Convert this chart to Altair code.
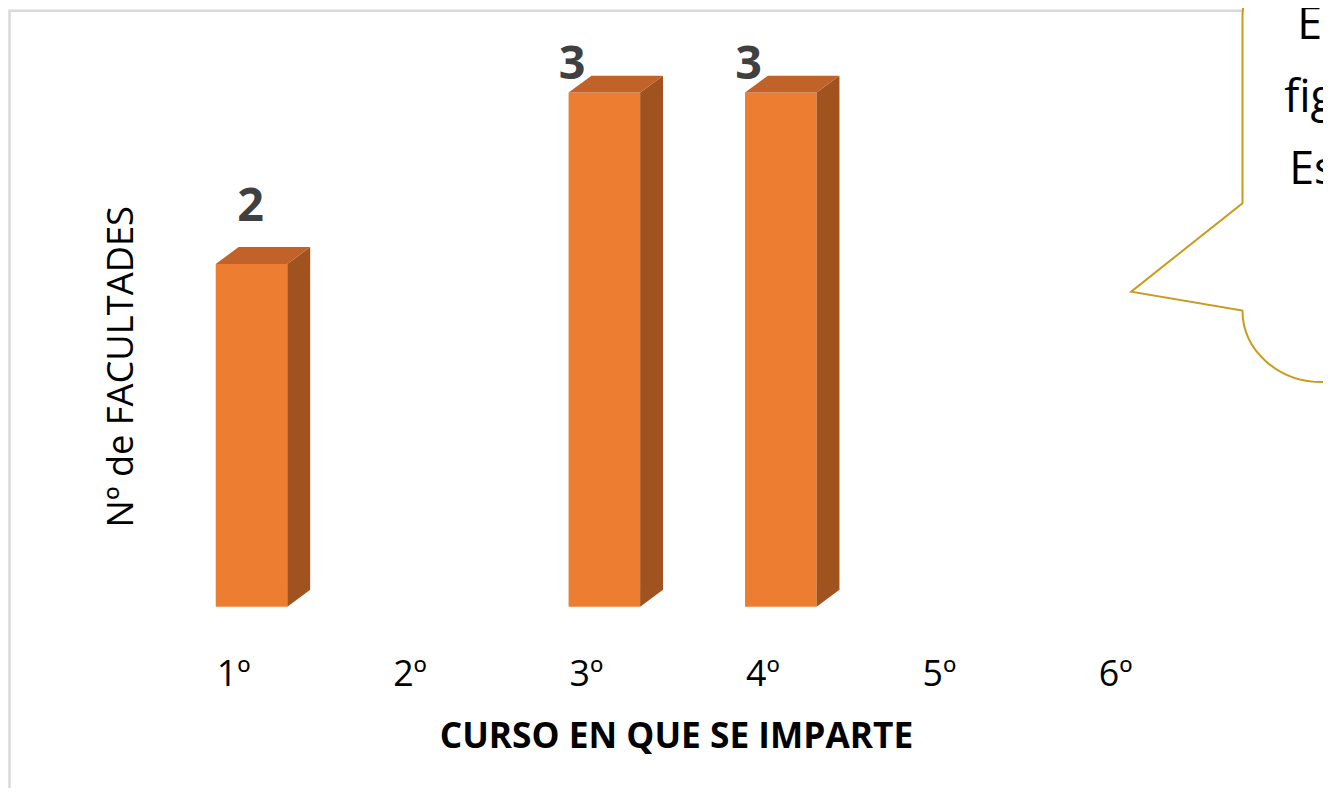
import json
import altair as alt
import pandas as pd

# ---------------- data ----------------
categories = ["1º", "2º", "3º", "4º", "5º", "6º"]
values = [2, 0, 3, 3, 0, 0]
y_title = "Nº de FACULTADES"
x_title = "CURSO EN QUE SE IMPARTE"
bubble_lines = ["E", "fig", "Es"]

# ---------------- layout / style ----------------
FONT = "Open Sans"
SVG_W, SVG_H = 1323, 780
PAD_L = 137.75
PLOT_W, PLOT_H = 1065, 600
PAD_R = SVG_W - PAD_L - PLOT_W
PAD_B = SVG_H - PLOT_H
X_DOMAIN = [0.5, 6.5]
Y_DOMAIN = [0, 3.48]
PX_X = PLOT_W / (X_DOMAIN[1] - X_DOMAIN[0])
PX_Y = PLOT_H / (Y_DOMAIN[1] - Y_DOMAIN[0])

FRONT_L = -17.5 / PX_X
FRONT_R = 54.5 / PX_X
DEPTH_X = 23 / PX_X
DEPTH_Y = 17 / PX_Y
LABEL_LIFT = 0.25
LABEL_MAX = 3.08

C_FRONT = "#ED7D31"
C_SIDE = "#A0531F"
C_TOP = "#C0622A"
C_LABEL = "#404040"
C_FRAME = "#D9D9D9"
C_BUBBLE = "#C99A1C"

# page -> plot-area offsets
OX = 8 + PAD_L
OY = 8

xs = alt.Scale(domain=X_DOMAIN, nice=False, zero=False)
ys = alt.Scale(domain=Y_DOMAIN, nice=False, zero=False)

bars = pd.DataFrame({"idx": list(range(1, len(categories) + 1)),
                     "cat": categories, "val": values})
bars = bars[bars["val"] > 0].copy()
bars["x0"] = bars["idx"] + FRONT_L
bars["x1"] = bars["idx"] + FRONT_R
bars["base"] = 0.0

side_rows, top_rows = [], []
for _, r in bars.iterrows():
    L, R, v = r["x0"], r["x1"], r["val"]
    side_rows += [
        {"idx": r["idx"], "x0": R, "val": v, "y2": 0.0},
        {"idx": r["idx"], "x0": R + DEPTH_X, "val": v + DEPTH_Y, "y2": DEPTH_Y},
    ]
    top_rows += [
        {"idx": r["idx"], "x0": L, "val": v, "y2": v},
        {"idx": r["idx"], "x0": L + DEPTH_X, "val": v + DEPTH_Y, "y2": v},
        {"idx": r["idx"], "x0": R, "val": v + DEPTH_Y, "y2": v},
        {"idx": r["idx"], "x0": R + DEPTH_X, "val": v + DEPTH_Y, "y2": v + DEPTH_Y},
    ]
side = pd.DataFrame(side_rows)
top = pd.DataFrame(top_rows)
dummy = pd.DataFrame({"a": [0]})

label_expr = f"{json.dumps(categories)}[datum.value - 1]"

x_axis = alt.Axis(
    values=list(range(1, len(categories) + 1)), labelExpr=label_expr,
    title=x_title, domain=False, ticks=False, tickSize=0, grid=False,
    labelFont=FONT, labelFontSize=36, labelColor="#000000",
    labelBaseline="alphabetic", labelPadding=79, labelAlign="center",
    labelFlush=False, labelOverlap=False,
    titleFont=FONT, titleFontSize=35.5, titleFontWeight="bold", titleColor="#000000",
    titleX=680 - OX, titleY=750 - 608, titleBaseline="alphabetic", titleAlign="center",
)
y_axis = alt.Axis(
    title=y_title, labels=False, ticks=False, domain=False, grid=False,
    titleFont=FONT, titleFontSize=36.5, titleFontWeight="normal", titleColor="#000000",
    titleAngle=270, titleX=133 - OX, titleY=366 - OY,
    titleBaseline="alphabetic", titleAlign="center",
)

# frame (decoration)
frame = alt.Chart(dummy).mark_rect(
    fillOpacity=0, stroke=C_FRAME, strokeWidth=2.5
).encode(
    x=alt.value(9.5 - OX), x2=alt.value(SVG_W + 40),
    y=alt.value(0.5), y2=alt.value(SVG_H + 40),
)

front = alt.Chart(bars).mark_rect(color=C_FRONT, opacity=1).encode(
    x=alt.X("x0:Q", scale=xs, axis=x_axis),
    x2="x1:Q",
    y=alt.Y("val:Q", scale=ys, axis=y_axis),
    y2="base:Q",
)

side_l = alt.Chart(side).mark_area(color=C_SIDE, opacity=1).encode(
    x=alt.X("x0:Q", scale=xs, axis=x_axis),
    y=alt.Y("val:Q", scale=ys, axis=y_axis),
    y2="y2:Q",
    detail="idx:N",
)

top_l = alt.Chart(top).mark_area(color=C_TOP, opacity=1).encode(
    x=alt.X("x0:Q", scale=xs, axis=x_axis),
    y=alt.Y("val:Q", scale=ys, axis=y_axis),
    y2="y2:Q",
    detail="idx:N",
)

labels = alt.Chart(bars).transform_calculate(
    ly=f"min(datum.val + {LABEL_LIFT}, {LABEL_MAX})",
    lx=f"datum.idx + (datum.val + {LABEL_LIFT} > {LABEL_MAX} ? {-14 / PX_X} : {17.5 / PX_X})",
).mark_text(
    font=FONT, fontSize=47, fontWeight="bold", color=C_LABEL,
    align="center", baseline="alphabetic",
).encode(
    x=alt.X("lx:Q", scale=xs, axis=x_axis),
    y=alt.Y("ly:Q", scale=ys, axis=y_axis),
    text="val:Q",
)

# speech-bubble callout (decoration), path in page coordinates
bubble_path = (
    "M1250,15 L1250,202 L1138,291 L1250,310 "
    "C1250,349.8 1285.8,382 1330,382 L1420,382 L1420,-45 L1310,-45 "
    "C1276.9,-45 1250,-18.1 1250,15 Z"
)
bubble = alt.Chart(dummy).mark_point(
    shape=bubble_path, size=4, filled=True, fill="#FFFFFF",
    stroke=C_BUBBLE, strokeWidth=2, opacity=1,
).encode(x=alt.value(-OX), y=alt.value(-OY))

bubble_text_pos = [(1305, 37), (1292, 110), (1297, 183)]
bubble_texts = [
    alt.Chart(dummy).mark_text(
        font=FONT, fontSize=45, color="#000000", align="left", baseline="alphabetic"
    ).encode(x=alt.value(px - OX), y=alt.value(py - OY), text=alt.value(t))
    for t, (px, py) in zip(bubble_lines, bubble_text_pos)
]

chart = alt.layer(frame, front, side_l, top_l, labels, bubble, *bubble_texts).properties(
    width=PLOT_W, height=PLOT_H,
    padding={"left": PAD_L, "top": 0, "right": PAD_R, "bottom": PAD_B},
    autosize=alt.AutoSizeParams(type="none"),
    background="#FFFFFF",
).configure_view(strokeOpacity=0)

chart.save("out.html", embed_options={"renderer": "svg", "actions": False})
